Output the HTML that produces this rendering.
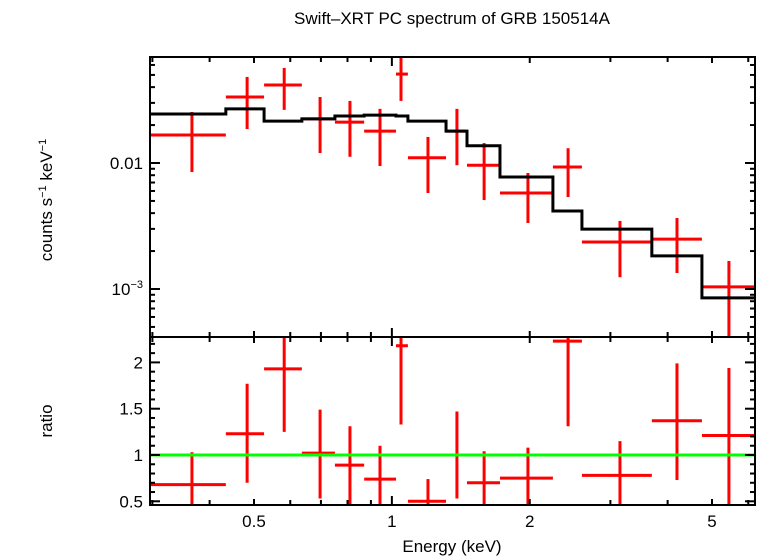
<!DOCTYPE html>
<html><head><meta charset="utf-8"><style>
html,body{margin:0;padding:0;background:#fff;}
svg{display:block;font-family:"Liberation Sans",sans-serif;}
</style></head><body>
<svg id="chart" width="758" height="556">
<text x="452" y="24" text-anchor="middle" font-size="17">Swift–XRT PC spectrum of GRB 150514A</text>
<text transform="translate(52,200) rotate(-90)" text-anchor="middle" font-size="17">counts s<tspan font-size="11" dy="-6">−1</tspan><tspan dy="6"> keV</tspan><tspan font-size="11" dy="-6">−1</tspan></text>
<text transform="translate(52,421) rotate(-90)" text-anchor="middle" font-size="17">ratio</text>
<text x="452" y="552" text-anchor="middle" font-size="17">Energy (keV)</text>
</svg>
<script>
const binLo=[0.296,0.434,0.526,0.636,0.751,0.870,1.021,1.084,1.313,1.459,1.722,2.247,2.600,3.695,4.753];
const binHi=[0.434,0.526,0.636,0.751,0.870,1.021,1.084,1.313,1.459,1.722,2.247,2.600,3.695,4.753,6.27];
const dataE=[0.366,0.483,0.582,0.697,0.810,0.942,1.047,1.199,1.387,1.590,1.982,2.425,3.148,4.193,5.444];
const dataLo=[0.296,0.434,0.526,0.636,0.751,0.870,1.021,1.084,1.313,1.459,1.722,2.247,2.600,3.695,4.753];
const dataHi=[0.434,0.526,0.636,0.751,0.870,1.021,1.084,1.313,1.459,1.722,2.247,2.600,3.695,4.753,6.27];
const dataVal=[0.0167,0.0334,0.0416,0.0224,0.0211,0.0179,0.0508,0.0110,0.0179,0.0096,0.00578,0.0093,0.00236,0.00249,0.00104];
const dataErrHi=[0.0254,0.0482,0.0568,0.0334,0.0311,0.0269,0.072,0.0161,0.0269,0.0144,0.00833,0.0131,0.00347,0.00366,0.00167];
const dataErrLo=[0.00848,0.0186,0.0264,0.0120,0.0112,0.00946,0.0311,0.00578,0.0096,0.00508,0.00334,0.00537,0.00124,0.00134,0.0003];
const modelVal=[0.0245,0.0269,0.0215,0.0224,0.0236,0.0240,0.0236,0.0215,0.0179,0.0137,0.00774,0.00416,0.00299,0.00183,0.00085];
const ratioVal=[0.68,1.23,1.93,1.02,0.89,0.74,2.18,0.50,1.0,0.70,0.75,2.23,0.78,1.37,1.21];
const ratioHi=[1.03,1.77,2.5,1.49,1.31,1.10,2.5,0.74,1.47,1.04,1.08,2.5,1.15,1.99,1.94];
const ratioLo=[0.3,0.70,1.25,0.53,0.3,0.3,1.33,0.3,0.53,0.3,0.3,1.31,0.3,0.73,0.3];
const xTicksMajor=[0.5,1,2,5];
const xTicksMinor=[0.3,0.4,0.6,0.7,0.8,0.9,3,4,6];
const ratioTicks=[0.5,1,1.5,2];

const L=150,R=755,T=57,M=337,B=505;
const xs=e=>254+458*Math.log10(e/0.5);
const ys=v=>163-126*(Math.log10(v)+2);
const yr=r=>455-(r-1)*92.6;
const svg=document.getElementById('chart');
const NS='http://www.w3.org/2000/svg';
function mk(tag,attrs,parent){const el=document.createElementNS(NS,tag);for(const k in attrs)el.setAttribute(k,attrs[k]);(parent||svg).appendChild(el);return el;}
const clipT=mk('clipPath',{id:'ct'});mk('rect',{x:L,y:T,width:R-L,height:M-T},clipT);
const clipB=mk('clipPath',{id:'cb'});mk('rect',{x:L,y:M,width:R-L,height:B-M},clipB);
const gT=mk('g',{'clip-path':'url(#ct)'});


const gB=mk('g',{'clip-path':'url(#cb)'});



for(let i=0;i<dataVal.length;i++){
  const g=mk('g',{stroke:'#f00','stroke-width':3},gT);
  
  
  mk('line',{x1:xs(dataLo[i]),x2:xs(dataHi[i]),y1:ys(dataVal[i]),y2:ys(dataVal[i])},g);
  mk('line',{x1:xs(dataE[i]),x2:xs(dataE[i]),y1:ys(dataErrHi[i]),y2:ys(dataErrLo[i])},g);
}
let d='';
for(let i=0;i<modelVal.length;i++){
  d+=(i?'L':'M')+xs(binLo[i])+' '+ys(modelVal[i])+'L'+xs(binHi[i])+' '+ys(modelVal[i]);
}
const mp=mk('path',{d:d,fill:'none',stroke:'#000','stroke-width':3},gT);


for(let i=0;i<ratioVal.length;i++){
  const g=mk('g',{stroke:'#f00','stroke-width':3},gB);
  
  
  mk('line',{x1:xs(dataLo[i]),x2:xs(dataHi[i]),y1:yr(ratioVal[i]),y2:yr(ratioVal[i])},g);
  mk('line',{x1:xs(dataE[i]),x2:xs(dataE[i]),y1:yr(ratioHi[i]),y2:yr(ratioLo[i])},g);
}
const gl=mk('line',{x1:L,x2:R,y1:yr(1),y2:yr(1),stroke:'#0f0','stroke-width':3},gB);


const ax=mk('g',{stroke:'#000','stroke-width':2,fill:'none'});


mk('rect',{x:L,y:T,width:R-L,height:B-T},ax);
mk('line',{x1:L,x2:R,y1:M,y2:M},ax);
function xt(e,len){const x=xs(e);[[T,1],[M,-1],[M,1],[B,-1]].forEach(([y,s])=>mk('line',{x1:x,x2:x,y1:y,y2:y+s*len},ax));}
xTicksMajor.forEach(e=>xt(e,e===1?9:6));xTicksMinor.forEach(e=>xt(e,5));
xTicksMajor.forEach(e=>{const t=mk('text',{x:xs(e),y:527,'text-anchor':'middle','font-size':17,fill:'#000',stroke:'none'});t.textContent=String(e);

});
for(let dec=-4;dec<=-1;dec++){for(let m=1;m<=9;m++){const v=m*Math.pow(10,dec);const y=ys(v);if(y<T||y>M)continue;const len=m===1?10:5;
mk('line',{x1:L,x2:L+len,y1:y,y2:y},ax);mk('line',{x1:R,x2:R-len,y1:y,y2:y},ax);}}
const t1=mk('text',{x:143,y:ys(0.01)+6,'text-anchor':'end','font-size':17,fill:'#000',stroke:'none'});t1.textContent='0.01';


const t2=mk('text',{x:143,y:ys(0.001)+6,'text-anchor':'end','font-size':17,fill:'#000',stroke:'none'});t2.innerHTML='10<tspan font-size="11" dy="-7">−3</tspan>';


for(let k=5;k<=22;k++){const r=k/10;const y=yr(r);if(y<M||y>B)continue;const len=(k%5===0)?10:5;
mk('line',{x1:L,x2:L+len,y1:y,y2:y},ax);mk('line',{x1:R,x2:R-len,y1:y,y2:y},ax);}
ratioTicks.forEach(r=>{const t=mk('text',{x:143,y:yr(r)+6,'text-anchor':'end','font-size':17,fill:'#000',stroke:'none'});t.textContent=String(r);

});
</script>
</body></html>
